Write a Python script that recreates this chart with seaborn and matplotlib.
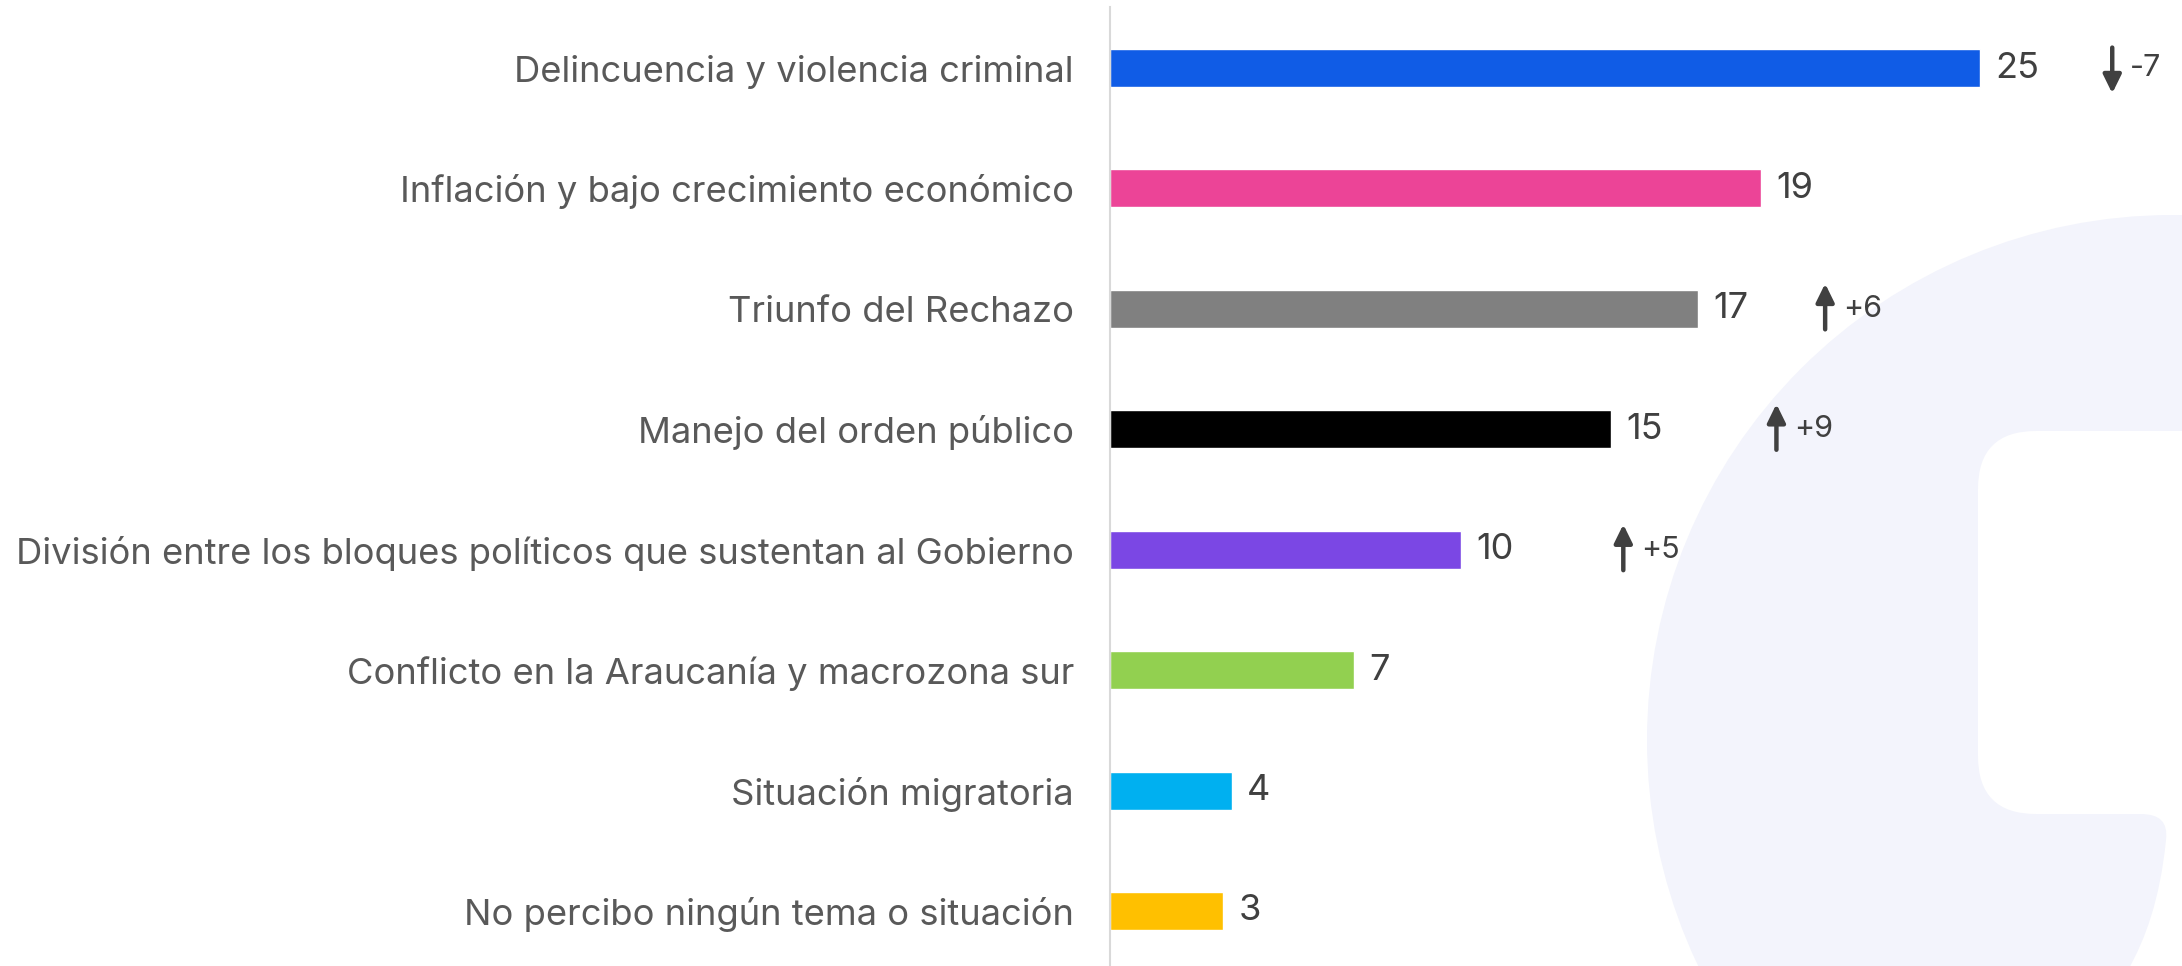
import numpy as np
import pandas as pd
import matplotlib.pyplot as plt
import seaborn as sns
from matplotlib.patches import Circle, FancyBboxPatch, PathPatch
from matplotlib.path import Path

# temas y porcentajes (largo de barra, etiqueta impresa)
temas = ['Delincuencia y violencia criminal',
         'Inflación y bajo crecimiento económico',
         'Triunfo del Rechazo',
         'Manejo del orden público',
         'División entre los bloques políticos que sustentan al Gobierno',
         'Conflicto en la Araucanía y macrozona sur',
         'Situación migratoria',
         'No percibo ningún tema o situación']
pct = [25, 18.7, 16.9, 14.4, 10.1, 7.0, 3.5, 3.25]
pct_label = ['25', '19', '17', '15', '10', '7', '4', '3']
cambio = [-7, None, 6, 9, 5, None, None, None]

colores = ['#105ce6', '#ec4497', '#808080', '#000000',
           '#7b47e4', '#92d050', '#00b0f0', '#ffc000']
# distancia de la flecha desde el final de la barra (unidades del eje)
gap_flecha = [3.8, 0, 3.65, 4.75, 4.65, 0, 0, 0]

df = pd.DataFrame({'tema': temas, 'pct': pct})

sns.set_style('white')
plt.rcParams['font.family'] = ['Inter', 'DejaVu Sans']

W, H = 2182, 966
fig = plt.figure(figsize=(W / 100, H / 100), dpi=100)
fig.patch.set_facecolor('white')

# marca de agua (la "c" lila de fondo)
def pin(x, y):
    return (x / 100, (H - y) / 100)

lila = '#f3f4fc'
fig.add_artist(Circle(pin(2172, 740), 5.25, transform=fig.dpi_scale_trans,
                      facecolor=lila, edgecolor='none', zorder=-5))
fig.add_artist(FancyBboxPatch(pin(1978, 814), 4, (814 - 431) / 100,
                              boxstyle='round,pad=0,rounding_size=0.58',
                              transform=fig.dpi_scale_trans,
                              facecolor='white', edgecolor='none', zorder=-4))
verts = [pin(2190, 790), pin(2140, 790), pin(2140, 814),
         pin(2160, 814), pin(2168, 822), pin(2166, 840),
         pin(2160, 900), pin(2145, 940), pin(2128, 970),
         pin(2190, 970), pin(2190, 790)]
codes = [Path.MOVETO, Path.LINETO, Path.LINETO,
         Path.CURVE4, Path.CURVE4, Path.CURVE4,
         Path.CURVE4, Path.CURVE4, Path.CURVE4,
         Path.LINETO, Path.CLOSEPOLY]
fig.add_artist(PathPatch(Path(verts, codes), transform=fig.dpi_scale_trans,
                         facecolor='white', edgecolor='none', zorder=-4))

x0 = 1110
ax = fig.add_axes([x0 / W, 0, (W - x0) / W, (H - 7) / H])
ax.set_facecolor('none')

sns.barplot(data=df, x='pct', y='tema', hue='tema', palette=colores,
            saturation=1, width=0.316, legend=False, ax=ax)

ax.set_xlim(0, (W - x0) / 34.8)
ax.set_ylim(7.457, -0.507)

for cont, lab in zip(ax.containers, pct_label):
    ax.bar_label(cont, labels=[lab], padding=11, fontsize=26,
                 color='#404040')

# flechas de cambio
for i, (v, d, g) in enumerate(zip(pct, cambio, gap_flecha)):
    if d is None:
        continue
    xa = v + g
    if d > 0:
        tip, tail = i - 0.21, i + 0.17
    else:
        tip, tail = i + 0.21, i - 0.17
    ax.annotate('', xy=(xa, tip), xytext=(xa, tail),
                arrowprops=dict(arrowstyle='-|>,head_length=0.55,head_width=0.27',
                                mutation_scale=20, lw=3.2, color='#404040',
                                shrinkA=0, shrinkB=0))
    ax.annotate(f'{d:+d}', xy=(xa, i), xytext=(13, 0),
                textcoords='offset points', ha='left', va='center',
                fontsize=22, color='#404040')

ax.set_xlabel('')
ax.set_ylabel('')
ax.set_xticks([])
ax.tick_params(axis='y', length=0, pad=26, labelsize=26.2, labelcolor='#595959')
for s in ['top', 'right', 'bottom']:
    ax.spines[s].set_visible(False)
ax.spines['left'].set_color('#d9d9d9')
ax.spines['left'].set_linewidth(1.5)

fig.savefig('out.png', dpi=100)
